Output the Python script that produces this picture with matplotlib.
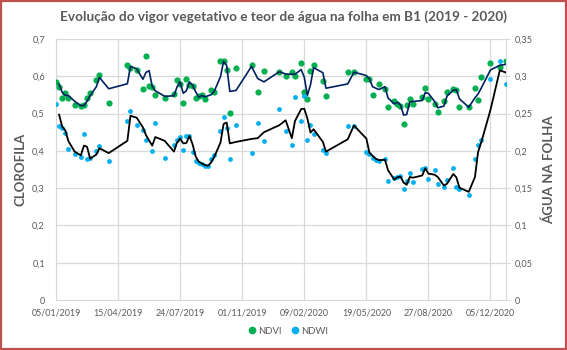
import matplotlib
matplotlib.use('Agg')
import matplotlib.pyplot as plt
import matplotlib.dates as mdates
from matplotlib.patches import Rectangle
from matplotlib.lines import Line2D
from matplotlib.ticker import FuncFormatter, MultipleLocator
import numpy as np
import pandas as pd

plt.rcParams['font.family'] = ['Lato', 'DejaVu Sans']

# ---- data (acquisition dates given as 5-day steps after 05/01/2019) ----
start_date = '2019-01-05'
ndvi_step = [0, 1, 2, 3, 4, 6, 8, 9, 10, 11, 13, 14, 17, 23, 24, 26, 28, 29, 30, 31,
             32, 35, 38, 39, 40, 41, 42, 43, 44, 45, 46, 47, 48, 50, 51, 53, 54, 55, 56, 58,
             63, 65, 67, 72, 74, 76, 77, 79, 80, 81, 82, 83, 86, 87, 94, 96, 100, 101, 102, 104,
             106, 107, 109, 110, 111, 112, 113, 114, 115, 118, 119, 120, 122, 123, 125, 126, 128, 129, 130, 133,
             135, 136, 137, 140, 143, 145]
ndvi = [0.586, 0.572, 0.542, 0.555, 0.542, 0.524, 0.519, 0.524, 0.542, 0.554, 0.590, 0.604, 0.529, 0.631, 0.622, 0.618, 0.566, 0.655, 0.575, 0.571,
        0.551, 0.542, 0.553, 0.590, 0.580, 0.529, 0.593, 0.577, 0.575, 0.542, 0.546, 0.551, 0.539, 0.562, 0.558, 0.640, 0.640, 0.617, 0.502, 0.622,
        0.631, 0.557, 0.613, 0.612, 0.600, 0.611, 0.600, 0.636, 0.559, 0.539, 0.615, 0.631, 0.588, 0.548, 0.611, 0.611, 0.593, 0.593, 0.551, 0.578,
        0.566, 0.517, 0.535, 0.526, 0.520, 0.472, 0.523, 0.539, 0.526, 0.544, 0.569, 0.539, 0.526, 0.505, 0.535, 0.559, 0.566, 0.562, 0.517, 0.517,
        0.568, 0.537, 0.599, 0.635, 0.624, 0.640]

ndwi_step = [0, 1, 2, 3, 4, 6, 8, 9, 10, 11, 13, 14, 17, 23, 24, 26, 28, 29, 31, 32,
             35, 38, 39, 40, 41, 42, 43, 44, 45, 46, 47, 48, 49, 50, 51, 53, 54, 55, 56, 58,
             63, 65, 67, 72, 74, 76, 77, 79, 80, 81, 82, 83, 86, 87, 94, 96, 100, 101, 102, 103,
             104, 106, 107, 109, 110, 111, 112, 113, 114, 115, 118, 119, 120, 122, 123, 125, 126, 128, 129, 130,
             133, 135, 136, 137, 140, 143, 145]
ndwi = [0.263, 0.234, 0.231, 0.224, 0.202, 0.196, 0.192, 0.222, 0.189, 0.190, 0.200, 0.207, 0.187, 0.240, 0.254, 0.235, 0.228, 0.214, 0.200, 0.237,
        0.190, 0.208, 0.214, 0.219, 0.201, 0.220, 0.220, 0.198, 0.187, 0.184, 0.182, 0.180, 0.180, 0.189, 0.195, 0.227, 0.245, 0.231, 0.189, 0.235,
        0.197, 0.237, 0.213, 0.256, 0.226, 0.208, 0.272, 0.240, 0.273, 0.214, 0.235, 0.223, 0.201, 0.197, 0.234, 0.234, 0.199, 0.196, 0.191, 0.188,
        0.187, 0.189, 0.159, 0.164, 0.165, 0.166, 0.149, 0.160, 0.170, 0.158, 0.176, 0.177, 0.162, 0.174, 0.156, 0.151, 0.161, 0.177, 0.152, 0.149,
        0.141, 0.189, 0.208, 0.214, 0.296, 0.320, 0.290]

x_tick_labels = ['05/01/2019', '15/04/2019', '24/07/2019', '01/11/2019',
                 '09/02/2020', '19/05/2020', '27/08/2020', '05/12/2020']

title = 'Evolução do vigor vegetativo e teor de água na folha em B1 (2019 - 2020)'

# ---- derived ----
t0 = pd.Timestamp(start_date)
ndvi_dates = t0 + pd.to_timedelta(np.array(ndvi_step) * 5, unit='D')
ndwi_dates = t0 + pd.to_timedelta(np.array(ndwi_step) * 5, unit='D')
ndvi_ma = pd.Series(ndvi).rolling(2).mean().values
ndwi_ma = pd.Series(ndwi).rolling(2).mean().values
tick_dates = pd.to_datetime(x_tick_labels, format='%d/%m/%Y')

GRAY = '#595959'
GREEN = '#00B050'
BLUE = '#00B0F0'
NAVY = '#002060'
GRID = '#d9d9d9'

fig = plt.figure(figsize=(5.67, 3.5), dpi=100)
ax = fig.add_axes([56 / 567, 50 / 350, 450 / 567, 261 / 350])
ax2 = ax.twinx()

ax.set_zorder(1)
ax2.set_zorder(2)
ax2.patch.set_visible(False)

ax.scatter(ndvi_dates, ndvi, s=20, color=GREEN, linewidths=0, zorder=3)
ax.plot(ndvi_dates, ndvi_ma, color=NAVY, lw=1.2, zorder=4)
ax2.scatter(ndwi_dates, ndwi, s=12, color=BLUE, linewidths=0, zorder=3)
ax2.plot(ndwi_dates, ndwi_ma, color='black', lw=1.3, zorder=4)

ax.set_ylim(0, 0.7)
ax2.set_ylim(0, 0.35)
ax.set_xlim(t0, t0 + pd.Timedelta(days=725))
ax.yaxis.set_major_locator(MultipleLocator(0.1))
ax2.yaxis.set_major_locator(MultipleLocator(0.05))

def comma_fmt(v, pos):
    s = format(round(v, 2), 'g')
    return s.replace('.', ',')

ax.yaxis.set_major_formatter(FuncFormatter(comma_fmt))
ax2.yaxis.set_major_formatter(FuncFormatter(comma_fmt))
ax.set_xticks(tick_dates)
ax.xaxis.set_major_formatter(mdates.DateFormatter('%d/%m/%Y'))

ax.grid(True, color=GRID, lw=0.9)
ax.set_axisbelow(True)

for sp in ['top', 'right']:
    ax.spines[sp].set_visible(False)
for sp in ['top', 'left', 'bottom']:
    ax2.spines[sp].set_visible(False)
ax.spines['left'].set_color(GRID)
ax.spines['bottom'].set_color(GRID)
ax2.spines['right'].set_color(GRID)

ax.tick_params(axis='y', length=0, labelsize=6.6, labelcolor=GRAY, pad=8)
ax.tick_params(axis='x', length=0, labelsize=6.4, labelcolor=GRAY, pad=6)
ax2.tick_params(axis='y', length=3, color=GRID, labelsize=6.6, labelcolor=GRAY, pad=3)

ax.set_ylabel('CLOROFILA', fontsize=9.5, fontweight='bold', color=GRAY, labelpad=4)
ax2.set_ylabel('ÁGUA NA FOLHA', fontsize=9.5, fontweight='bold', color=GRAY, labelpad=7)

fig.text(0.5, 1 - 17 / 350, title, ha='center', va='center', fontsize=9.8,
         fontweight='bold', color=GRAY)

handles = [Line2D([], [], marker='o', ls='', color=GREEN, ms=4.5, label='NDVI'),
           Line2D([], [], marker='o', ls='', color=BLUE, ms=4.5, label='NDWI')]
fig.legend(handles=handles, loc='center', bbox_to_anchor=(287 / 567, 1 - 331 / 350),
           ncol=2, frameon=False, fontsize=6.8, labelcolor=GRAY,
           handletextpad=0.05, columnspacing=0.8, handlelength=1.2)

fig.patches.append(Rectangle((0.002, 0.003), 0.996, 0.994, transform=fig.transFigure,
                             fill=False, edgecolor='#C0504D', lw=1.6))

fig.savefig('out.png', dpi=100)
